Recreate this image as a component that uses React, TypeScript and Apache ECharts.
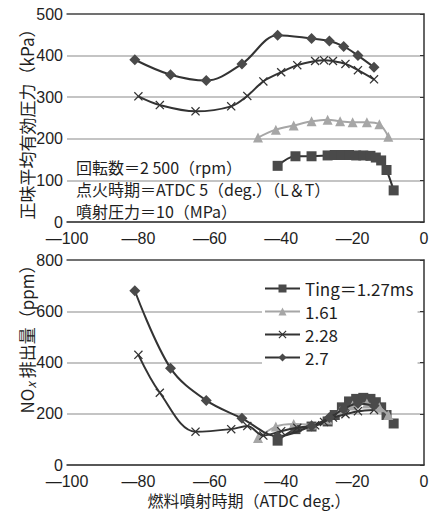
import React, { useEffect, useRef } from "react";
import * as echarts from "echarts";

// ---- data ----
const seriesNames = ["Ting＝1.27ms", "1.61", "2.28", "2.7"];

// Ting = 1.27 ms (squares)
const t127X = [-41, -36, -31.5, -27, -25, -23, -21, -19, -17, -15, -13.5, -12, -10.5, -8.5];
const t127Imep = [135, 158, 158, 160, 161, 161, 161, 160, 160, 159, 155, 148, 125, 76];
const t127Nox = [95, 140, 150, 170, 195, 225, 248, 258, 262, 258, 245, 225, 195, 162];

// Ting = 1.61 ms (triangles)
const t161X = [-46.5, -41.5, -36.5, -31.5, -27, -23.5, -20, -16, -12.5, -10];
const t161Imep = [203, 222, 232, 242, 246, 242, 240, 240, 235, 205];
const t161Nox = [105, 150, 160, 158, 178, 210, 232, 240, 225, 195];

// Ting = 2.28 ms (crosses)
const t228X = [-80, -74, -64, -54, -49.5, -45, -40, -35.5, -30.5, -28, -25.5, -22, -18.5, -14];
const t228Imep = [302, 281, 266, 278, 303, 338, 360, 377, 387, 389, 387, 380, 365, 343];
const t228Nox = [430, 282, 130, 140, 152, 115, 132, 145, 155, 168, 185, 198, 210, 215];

// Ting = 2.7 ms (diamonds)
const t27X = [-81, -71, -61, -51, -41, -31.5, -26.5, -22.5, -18.5, -14];
const t27Imep = [390, 354, 340, 380, 449, 441, 435, 422, 400, 372];
const t27Nox = [680, 378, 252, 182, 112, 152, 185, 218, 240, 232];

const xTicks = { min: -100, max: 0, interval: 20 };
const imepAxis = { min: 0, max: 500, interval: 100 };
const noxAxis = { min: 0, max: 800, interval: 200 };

const zip = (xs: number[], ys: number[]) => xs.map((x, i) => [x, ys[i]]);

const FONT = "'Noto Sans CJK JP', 'Noto Sans', sans-serif";
const NUMFONT = "'Liberation Sans', Arial, sans-serif";
const CROSS = "path://M0,1L1,0L5,4L9,0L10,1L6,5L10,9L9,10L5,6L1,10L0,9L4,5Z";
const TXT = "#1e1e1e";

const fmtMinus = (v: number) => (v < 0 ? "—" + Math.abs(v) : String(v));

export default function App() {
  const ref = useRef<HTMLDivElement>(null);
  useEffect(() => {
    if (!ref.current) return;
    const chart = echarts.init(ref.current, undefined, { renderer: "svg" });

    const styles = [
      { symbol: "rect", size: 10, color: "#4a4a4a", line: "#333" },
      { symbol: "triangle", size: 10, color: "#a6a6a6", line: "#a6a6a6" },
      { symbol: CROSS, size: 9, color: "#333", line: "#333" },
      { symbol: "diamond", size: 11, color: "#4a4a4a", line: "#333" },
    ];
    const xs = [t127X, t161X, t228X, t27X];
    const imeps = [t127Imep, t161Imep, t228Imep, t27Imep];
    const noxs = [t127Nox, t161Nox, t228Nox, t27Nox];

    const mk = (i: number, data: number[][], gi: number) => ({
      name: seriesNames[i],
      type: "line",
      xAxisIndex: gi,
      yAxisIndex: gi,
      smooth: 0.35,
      symbol: styles[i].symbol,
      symbolSize: styles[i].size,
      showSymbol: true,
      data,
      lineStyle: { color: styles[i].line, width: 2 },
      itemStyle: { color: styles[i].color },
      z: 3 + i,
    });

    const series: any[] = [];
    for (let i = 0; i < 4; i++) series.push(mk(i, zip(xs[i], imeps[i]), 0));
    for (let i = 0; i < 4; i++) series.push(mk(i, zip(xs[i], noxs[i]), 1));

    const xAxisBase = (gi: number, margin: number) => ({
      type: "value",
      gridIndex: gi,
      ...xTicks,
      axisLine: { show: true, onZero: false, lineStyle: { color: "#333", width: 1.5 } },
      axisTick: { show: false },
      splitLine: { show: false },
      axisLabel: { color: TXT, fontSize: 16, lineHeight: 16, fontFamily: NUMFONT, margin, formatter: fmtMinus },
    });
    const topLine = (gi: number) => ({
      type: "value",
      gridIndex: gi,
      position: "top",
      ...xTicks,
      axisLine: { show: true, onZero: false, lineStyle: { color: "#555", width: 1.5 } },
      axisTick: { show: false },
      axisLabel: { show: false },
      splitLine: { show: false },
    });
    const yAxisBase = (gi: number, ax: any) => ({
      type: "value",
      gridIndex: gi,
      ...ax,
      axisLine: { show: true, lineStyle: { color: "#333", width: 1.5 } },
      axisTick: { show: true, length: 4, lineStyle: { color: "#333" } },
      splitLine: { show: true, lineStyle: { color: "#b0b0b0", width: 1.5 } },
      axisLabel: { color: TXT, fontSize: 16, lineHeight: 15, fontFamily: NUMFONT, margin: 4 },
    });

    const ann = (text: string, y: number) => ({
      type: "text",
      x: 76,
      y,
      style: { text, fontSize: 16, lineHeight: 18, fontFamily: FONT, fill: TXT, verticalAlign: "middle" },
    });

    chart.setOption({
      animation: false,
      backgroundColor: "#fff",
      grid: [
        { left: 67, right: 14, top: 14, height: 208 },
        { left: 67, right: 14, top: 260, height: 205 },
      ],
      xAxis: [xAxisBase(0, 8), xAxisBase(1, 8), topLine(0), topLine(1)],
      yAxis: [yAxisBase(0, imepAxis), yAxisBase(1, noxAxis)],
      legend: {
        data: seriesNames,
        orient: "vertical",
        left: 262,
        top: 278,
        itemWidth: 35,
        itemHeight: 10,
        itemGap: 6,
        padding: [2, 4, 2, 2],
        backgroundColor: "#fff",
        textStyle: { color: TXT, fontSize: 17, fontFamily: FONT, lineHeight: 16 },
      },
      graphic: [
        {
          type: "text",
          x: 26,
          y: 120,
          rotation: Math.PI / 2,
          style: {
            text: "正味平均有効圧力（kPa）",
            fontSize: 17,
            lineHeight: 18,
            fontFamily: FONT,
            fill: TXT,
            align: "center",
            verticalAlign: "middle",
          },
        },
        {
          type: "text",
          x: 26,
          y: 335,
          rotation: Math.PI / 2,
          style: {
            text: "{a|NO}{b|x}{a| 排出量（ppm）}",
            fontFamily: FONT,
            fill: TXT,
            align: "center",
            verticalAlign: "middle",
            rich: {
              a: { fontSize: 17, lineHeight: 18, fontFamily: FONT, fill: TXT },
              b: { fontSize: 13, lineHeight: 14, fontStyle: "italic", fontFamily: FONT, fill: TXT, padding: [8, 0, 0, 0] },
            },
          },
        },
        {
          type: "text",
          x: 249,
          y: 500,
          style: {
            text: "燃料噴射時期（ATDC deg.）",
            fontSize: 16,
            lineHeight: 16,
            fontFamily: FONT,
            fill: TXT,
            align: "center",
            verticalAlign: "middle",
          },
        },
        ann("回転数＝2 500（rpm）", 167),
        ann("点火時期＝ATDC 5（deg.）（L＆T）", 189),
        ann("噴射圧力＝10（MPa）", 211),
      ],
      series,
    });
    return () => chart.dispose();
  }, []);

  return (
    <div style={{ position: "absolute", left: 0, top: 0 }}>
      <div ref={ref} style={{ width: 438, height: 511 }} />
    </div>
  );
}
